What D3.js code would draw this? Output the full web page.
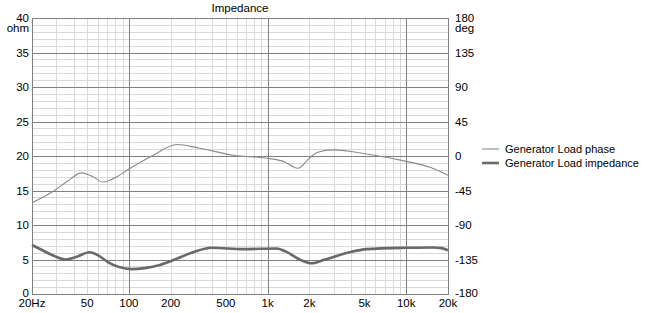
<!DOCTYPE html>
<html>
<head>
<meta charset="utf-8">
<script src="https://cdn.jsdelivr.net/npm/d3@7"></script>
<style>
  body { margin: 0; background: #fff; }
  svg text { font-family: "Liberation Sans", Arial, sans-serif; font-size: 11.5px; fill: #000; }
  svg text.legend { font-size: 11px; }
</style>
</head>
<body>
<div id="chart"></div>
<script>
// data
const impFreq = [20, 24, 29, 35, 42, 52, 60, 71, 85, 104, 130, 167, 200, 240, 290, 395, 670, 1160, 1370, 1700, 2080, 2600, 3900, 5200, 10000, 15600, 18000, 20000];
const impOhm  = [7.1, 6.3, 5.5, 5.0, 5.4, 6.05, 5.6, 4.6, 3.9, 3.6, 3.75, 4.2, 4.75, 5.4, 6.05, 6.7, 6.5, 6.6, 6.1, 5.0, 4.45, 5.0, 6.05, 6.5, 6.7, 6.75, 6.65, 6.35];

const phaseFreq = [20, 28.5, 36, 45.6, 55, 65, 82, 100, 150, 221, 325, 566, 1000, 1300, 1650, 2000, 2300, 2980, 5200, 10000, 15000, 20000];
const phaseDeg  = [-61, -46, -33, -22, -27, -34, -27, -17, 1, 15, 10, 1, -3, -7, -16, -3, 5, 8, 2.6, -7, -15, -25];

const xTickVals = [20, 50, 100, 200, 500, 1000, 2000, 5000, 10000, 20000];
const xTickText = ['20Hz', '50', '100', '200', '500', '1k', '2k', '5k', '10k', '20k'];
const ohmTicks = [0, 5, 10, 15, 20, 25, 30, 35, 40];
const degTicks = [-180, -135, -90, -45, 0, 45, 90, 135, 180];
const seriesNames = ['Generator Load phase', 'Generator Load impedance'];

const margins = { top: 18, right: 201, bottom: 19, left: 32 };
const W = 649, H = 313;
const width = W - margins.left - margins.right;
const height = H - margins.top - margins.bottom;

const xScale = d3.scaleLog().domain([20, 20000]).range([0, width]);
const yOhm = d3.scaleLinear().domain([0, 40]).range([height, 0]);
const yDeg = d3.scaleLinear().domain([-180, 180]).range([height, 0]);

const $svg = d3.select('#chart').append('svg')
  .attr('width', W).attr('height', H);

const $g = $svg.append('g')
  .attr('transform', `translate(${margins.left}, ${margins.top})`);

// minor grid
const minorX = [];
[10, 100, 1000, 10000].forEach(dec => {
  for (let k = 1; k <= 9; k++) {
    const f = dec * k;
    if (f > 20 && f < 20000 && ![100, 1000, 10000].includes(f)) minorX.push(f);
  }
});
const majorX = [100, 1000, 10000];
const minorY = d3.range(1, 40).filter(v => v % 5 !== 0);
const majorY = [5, 10, 15, 20, 25, 30, 35];

$g.selectAll('.minor-x').data(minorX).enter().append('line')
  .attr('x1', d => Math.round(xScale(d)) + 0.5).attr('x2', d => Math.round(xScale(d)) + 0.5)
  .attr('y1', 0).attr('y2', height)
  .attr('stroke', '#d9d9d9');

$g.selectAll('.minor-y').data(minorY).enter().append('line')
  .attr('x1', 0).attr('x2', width)
  .attr('y1', d => Math.round(yOhm(d)) + 0.5).attr('y2', d => Math.round(yOhm(d)) + 0.5)
  .attr('stroke', '#d9d9d9');

$g.selectAll('.major-x').data(majorX).enter().append('line')
  .attr('x1', d => Math.round(xScale(d)) + 0.5).attr('x2', d => Math.round(xScale(d)) + 0.5)
  .attr('y1', 0).attr('y2', height)
  .attr('stroke', '#808080');

$g.selectAll('.major-y').data(majorY).enter().append('line')
  .attr('x1', 0).attr('x2', width)
  .attr('y1', d => Math.round(yOhm(d)) + 0.5).attr('y2', d => Math.round(yOhm(d)) + 0.5)
  .attr('stroke', '#808080');

$g.append('rect')
  .attr('x', 0.5).attr('y', 0.5)
  .attr('width', width).attr('height', height)
  .attr('fill', 'none').attr('stroke', '#808080');

// curves
const phaseData = phaseFreq.map((f, i) => ({ f, v: phaseDeg[i] }));
const impData = impFreq.map((f, i) => ({ f, v: impOhm[i] }));

$g.append('path')
  .datum(phaseData)
  .attr('fill', 'none')
  .attr('stroke', '#8a8a8a')
  .attr('stroke-width', 1.1)
  .attr('d', d3.line().curve(d3.curveMonotoneX).x(d => xScale(d.f)).y(d => yDeg(d.v)));

$g.append('path')
  .datum(impData)
  .attr('fill', 'none')
  .attr('stroke', '#696969')
  .attr('stroke-width', 2.6)
  .attr('d', d3.line().curve(d3.curveMonotoneX).x(d => xScale(d.f)).y(d => yOhm(d.v)));

// axes labels
$g.selectAll('.xlab').data(xTickVals).enter().append('text')
  .attr('x', d => xScale(d))
  .attr('y', height + 13)
  .attr('text-anchor', 'middle')
  .text((d, i) => xTickText[i]);

$g.selectAll('.ylab').data(ohmTicks).enter().append('text')
  .attr('x', -3)
  .attr('y', d => yOhm(d) + (d === 0 ? 3 : 4))
  .attr('text-anchor', 'end')
  .text(d => d);

$g.append('text').attr('x', -3).attr('y', 13.5).attr('text-anchor', 'end').text('ohm');

$g.selectAll('.ylab2').data(degTicks).enter().append('text')
  .attr('x', width + 7)
  .attr('y', d => yDeg(d) + (d === -180 ? 3 : 4))
  .text(d => d);

$g.append('text').attr('x', width + 7).attr('y', 13.5).text('deg');

$svg.append('text')
  .attr('x', margins.left + width / 2)
  .attr('y', 12)
  .attr('text-anchor', 'middle')
  .text('Impedance');

// legend
const $legend = $svg.append('g').attr('transform', 'translate(482, 149)');
$legend.selectAll('g').data(seriesNames).enter().append('g')
  .attr('transform', (d, i) => `translate(0, ${i * 14})`)
  .each(function(d, i) {
    const $l = d3.select(this);
    $l.append('line').attr('x1', 0).attr('x2', 17).attr('y1', 0).attr('y2', 0)
      .attr('stroke', i === 0 ? '#8a8a8a' : '#696969')
      .attr('stroke-width', i === 0 ? 1.1 : 2.6);
    $l.append('text').classed('legend', true).attr('x', 23).attr('y', 4).text(d);
  });
</script>
</body>
</html>
